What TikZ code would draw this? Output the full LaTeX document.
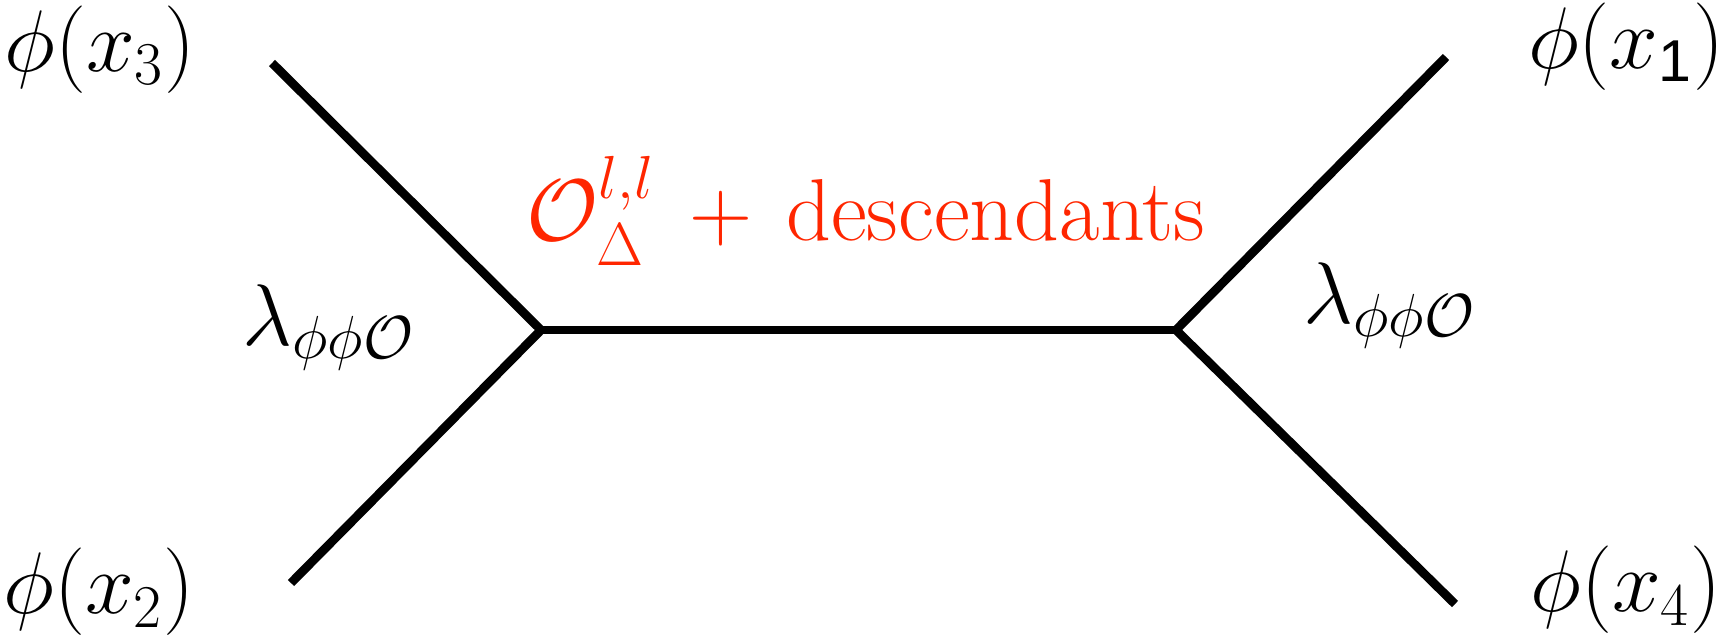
\documentclass[tikz,border=0pt]{standalone}
\usepackage{amsmath}
\usepackage{amssymb}
\usepackage{fontspec}
\usepackage{tikz}
\newfontfamily\arialfont{Liberation Sans}
\definecolor{exchred}{RGB}{255,38,0}

\begin{document}
\begin{tikzpicture}[x=0.01cm, y=-0.01cm,
		leg/.style={line width=2.5pt, black},
		lbl/.style={inner sep=0pt, font=\fontsize{24}{29}\selectfont}]

		\useasboundingbox (0,0) rectangle (1724,636);

		% Vertices
		\coordinate (vL) at (541, 330);
		\coordinate (vR) at (1176, 330);

		% Outer ends
		\coordinate (e3) at (272, 63);
		\coordinate (e2) at (291, 583);
		\coordinate (e1) at (1446, 57);
		\coordinate (e4) at (1455, 604);

		% External operators
		\node[lbl] (phi3) at (100, 50) {$\phi(x_3)$};
		\node[lbl] (phi2) at (99, 592) {$\phi(x_2)$};
		\node[lbl] (phi1) at (1626, 47) {$\phi(x_{\text{\arialfont 1}})$};
		\node[lbl] (phi4) at (1626, 590) {$\phi(x_4)$};

		% Couplings
		\node[lbl, anchor=base west] (lamL) at (242, 345) {$\lambda_{\phi\phi\mathcal{O}}$};
		\node[lbl, anchor=base west] (lamR) at (1303, 323) {$\lambda_{\phi\phi\mathcal{O}}$};

		% Exchanged operator
		\node[lbl, anchor=base west, text=exchred, font=\fontsize{25}{30}\selectfont] (exch) at (526, 240)
			{$\mathcal{O}^{l,l}_{\Delta}\mkern3mu + \,\text{descendants}$};

		% --- Lines ---
		\draw[leg] (e3) -- (vL);
		\draw[leg] (e2) -- (vL);
		\draw[leg] (vL) -- (vR);
		\draw[leg] (vR) -- (e1);
		\draw[leg] (vR) -- (e4);

	\end{tikzpicture}
\end{document}
